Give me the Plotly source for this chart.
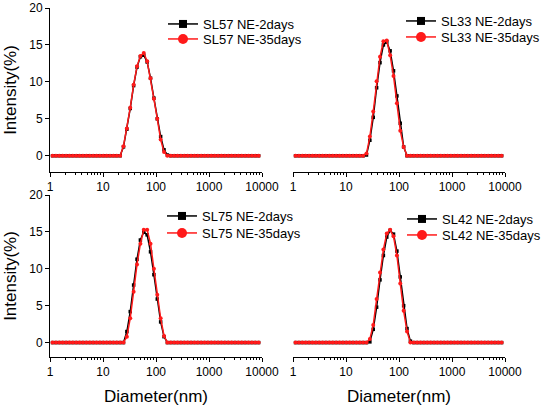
import plotly.graph_objects as go

# Zetasizer size bins (nm)
diameter = [1.117, 1.294, 1.499, 1.736, 2.010, 2.328, 2.696, 3.122, 3.615, 4.187,
            4.849, 5.615, 6.503, 7.531, 8.721, 10.10, 11.70, 13.54, 15.69, 18.17,
            21.04, 24.36, 28.21, 32.67, 37.84, 43.82, 50.75, 58.77, 68.06, 78.82,
            91.28, 105.7, 122.4, 141.8, 164.2, 190.1, 220.2, 255.0, 295.3, 342.0,
            396.1, 458.7, 531.2, 615.1, 712.4, 825.0, 955.4, 1106, 1281, 1484,
            1718, 1990, 2305, 2669, 3091, 3580, 4145, 4801, 5560, 6439, 7456, 8635]

Z20 = [0, 0, 0, 0, 0, 0, 0, 0, 0, 0, 0, 0, 0, 0, 0, 0, 0, 0, 0, 0]
Z26 = [0, 0, 0, 0, 0, 0, 0, 0, 0, 0, 0, 0, 0, 0, 0, 0, 0, 0, 0, 0, 0, 0, 0, 0, 0, 0]

sl57_2d  = Z20 + [0, 1.2, 3.6, 6.4, 9.5, 12.0, 13.4, 13.6, 12.7, 10.5, 7.8, 5.0, 2.6, 0.8, 0.1, 0] + Z26
sl57_35d = Z20 + [0, 1.3, 3.7, 6.5, 9.6, 12.1, 13.5, 13.9, 12.8, 10.5, 7.7, 5.0, 2.2, 0.5, 0, 0] + Z26
sl33_2d  = Z20 + [0, 0.1, 2.1, 5.2, 9.2, 12.6, 15.0, 15.4, 14.2, 11.5, 8.1, 4.4, 1.2, 0, 0, 0] + Z26
sl33_35d = Z20 + [0, 0.3, 2.6, 6.0, 10.1, 13.4, 15.5, 15.6, 13.6, 10.8, 7.1, 3.4, 1.2, 0, 0, 0] + Z26
sl75_2d  = Z20 + [0, 0, 1.5, 4.2, 7.8, 11.3, 13.9, 15.0, 14.6, 12.3, 9.2, 5.9, 2.8, 0.8, 0, 0] + Z26
sl75_35d = Z20 + [0, 0, 0.8, 3.3, 6.9, 10.6, 13.4, 15.3, 15.3, 13.4, 10.0, 6.5, 3.3, 0.9, 0, 0] + Z26
sl42_2d  = Z20 + [0, 0, 0.1, 1.8, 4.8, 8.5, 11.8, 14.3, 15.2, 14.7, 12.4, 8.9, 5.0, 1.9, 0.2, 0] + Z26
sl42_35d = Z20 + [0, 0, 0.5, 2.4, 5.9, 9.5, 12.6, 14.8, 15.3, 14.4, 11.8, 8.0, 4.3, 1.5, 0, 0] + Z26

panels = [
    ("SL57", sl57_2d, sl57_35d, "x", "y", "legend", "legend2"),
    ("SL33", sl33_2d, sl33_35d, "x2", "y2", "legend3", "legend4"),
    ("SL75", sl75_2d, sl75_35d, "x3", "y3", "legend5", "legend6"),
    ("SL42", sl42_2d, sl42_35d, "x4", "y4", "legend7", "legend8"),
]
x_ticks = [1, 10, 100, 1000, 10000]
x_ticktext = ["1", "10", "100", "1000", "10000"]
y_ticks = [0, 5, 10, 15, 20]

W, H = 543, 411
FONT = "Liberation Sans, Arial, sans-serif"
BLACK = "#000000"
RED = "#ff1a1a"

fig = go.Figure()
for name, d2, d35, xa, ya, lg1, lg2 in panels:
    fig.add_trace(go.Scatter(x=diameter, y=d2, xaxis=xa, yaxis=ya, mode="lines+markers",
                             line=dict(color=BLACK, width=1.5),
                             marker=dict(symbol="square", size=3.5, color=BLACK),
                             showlegend=False, hoverinfo="skip"))
    fig.add_trace(go.Scatter(x=diameter, y=d35, xaxis=xa, yaxis=ya, mode="lines+markers",
                             line=dict(color=RED, width=1.5),
                             marker=dict(symbol="circle", size=4, color=RED),
                             showlegend=False, hoverinfo="skip"))
    # legend entries
    fig.add_trace(go.Scatter(x=[None], y=[None], xaxis=xa, yaxis=ya, mode="lines+markers",
                             name=f"{name} NE-2days", legend=lg1,
                             line=dict(color=BLACK, width=1.5),
                             marker=dict(symbol="square", size=8, color=BLACK)))
    fig.add_trace(go.Scatter(x=[None], y=[None], xaxis=xa, yaxis=ya, mode="lines+markers",
                             name=f"{name} NE-35days", legend=lg2,
                             line=dict(color=RED, width=1.5),
                             marker=dict(symbol="circle", size=10, color=RED)))

def px_x(p):
    return p / W

def px_y(p):
    return 1 - p / H

xdom_left = [px_x(50), px_x(262)]
xdom_right = [px_x(293), px_x(505)]
ydom_top = [px_y(172), px_y(8)]
ydom_bot = [px_y(357), px_y(195)]

def xaxis(dom, anchor):
    return dict(type="log", domain=dom, anchor=anchor, range=[0, 4],
                showline=True, linecolor="black", linewidth=1, mirror=False,
                showgrid=False, zeroline=False, automargin=False,
                ticks="outside", ticklen=4, tickwidth=1, tickcolor="black",
                tickvals=x_ticks, ticktext=x_ticktext,
                tickfont=dict(family=FONT, size=12, color="black"),
                minor=dict(ticks="outside", ticklen=2, tickcolor="black", tickwidth=1,
                           tickvals=[2, 3, 4, 5, 6, 7, 8, 9, 20, 30, 40, 50, 60, 70, 80, 90,
                                     200, 300, 400, 500, 600, 700, 800, 900,
                                     2000, 3000, 4000, 5000, 6000, 7000, 8000, 9000],
                           showgrid=False))

def yaxis_left(dom, anchor, rng):
    return dict(domain=dom, anchor=anchor, range=rng,
                showline=True, linecolor="black", linewidth=1,
                showgrid=False, zeroline=False, automargin=False,
                ticks="outside", ticklen=4, tickwidth=1, tickcolor="black",
                tickvals=y_ticks,
                tickfont=dict(family=FONT, size=12, color="black"),
                title=dict(text="Intensity(%)", font=dict(family=FONT, size=17, color="black"),
                           standoff=8))

def yaxis_right(dom, anchor, rng):
    return dict(domain=dom, anchor=anchor, range=rng, visible=False,
                showgrid=False, zeroline=False)

top_rng = [-2.2, 20]
bot_rng = [-1.95, 20]

def legend(xp, row_center):
    return dict(x=px_x(xp), y=px_y(row_center - 14), xanchor="left", yanchor="top",
                bgcolor="rgba(0,0,0,0)", borderwidth=0,
                font=dict(family=FONT, size=13, color="black"),
                tracegroupgap=0, itemwidth=30)

fig.update_layout(
    width=W, height=H,
    margin=dict(l=0, r=0, t=0, b=0, autoexpand=False),
    paper_bgcolor="white", plot_bgcolor="white",
    showlegend=True,
    xaxis=xaxis(xdom_left, "y"),
    yaxis=yaxis_left(ydom_top, "x", top_rng),
    xaxis2=xaxis(xdom_right, "y2"),
    yaxis2=yaxis_right(ydom_top, "x2", top_rng),
    xaxis3=dict(xaxis(xdom_left, "y3"),
                title=dict(text="Diameter(nm)", font=dict(family=FONT, size=17, color="black"), standoff=11)),
    yaxis3=yaxis_left(ydom_bot, "x3", bot_rng),
    xaxis4=dict(xaxis(xdom_right, "y4"),
                title=dict(text="Diameter(nm)", font=dict(family=FONT, size=17, color="black"), standoff=11)),
    yaxis4=yaxis_right(ydom_bot, "x4", bot_rng),
    legend=legend(163, 23),
    legend2=legend(163, 38),
    legend3=legend(401, 20),
    legend4=legend(401, 36),
    legend5=legend(162, 215),
    legend6=legend(162, 232),
    legend7=legend(402, 218),
    legend8=legend(402, 234),
)

fig.write_html("out.html", config={"displayModeBar": False},
               post_script="document.body.style.margin='0';document.body.style.padding='0';")
